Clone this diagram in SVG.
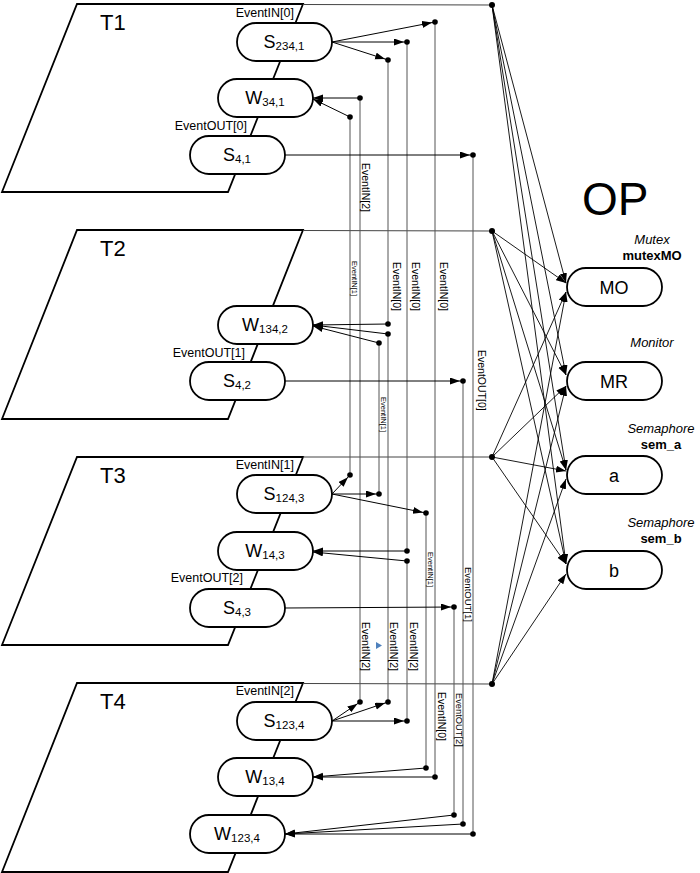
<svg xmlns="http://www.w3.org/2000/svg" width="700" height="873" viewBox="0 0 700 873">
<defs>
<style>
.thr{fill:#fff;stroke:#000;stroke-width:1.8}
.nd{fill:#fff;stroke:#000;stroke-width:1.8}
.top{stroke:#444;stroke-width:1;fill:none}
.bus{stroke:#555;stroke-width:1;fill:none}
.ar{stroke:#000;stroke-width:1;fill:none;marker-end:url(#ah)}
.ad{stroke:#000;stroke-width:1;fill:none;marker-end:url(#ahd)}
.fan{stroke:#000;stroke-width:0.9;fill:none;marker-end:url(#ah)}
.t{font-family:"Liberation Sans",Arial,sans-serif;fill:#000}
.ttl{font-size:22px}
.nl{font-size:18px;text-anchor:middle}
.sub{font-size:11.5px}
.ev{font-size:12.5px;text-anchor:end}
.vl{font-size:10.5px}
.vs{font-size:7.5px}
.lab{font-size:13px;text-anchor:middle}
</style>
<marker id="ah" markerUnits="userSpaceOnUse" markerWidth="11" markerHeight="8" refX="10" refY="3.5" orient="auto"><path d="M0,0 L10,3.5 L0,7 z" fill="#000"/></marker>
<marker id="ahd" markerUnits="userSpaceOnUse" markerWidth="14" markerHeight="8" refX="13" refY="3.5" orient="auto"><path d="M0,0 L10,3.5 L0,7 z" fill="#000"/></marker>
</defs>
<rect width="700" height="873" fill="#fff"/>

<g id="T1"><polygon class="thr" points="77,4 303,4 228,192 2,192"/><text class="t ttl" x="100" y="30">T1</text><text class="t ev" x="294" y="17">EventIN[0]</text><text class="t ev" x="247" y="130">EventOUT[0]</text></g>
<g id="T2"><polygon class="thr" points="77,230 303,230 228,419 2,419"/><text class="t ttl" x="100" y="256">T2</text><text class="t ev" x="245" y="357">EventOUT[1]</text></g>
<g id="T3"><polygon class="thr" points="77,457 303,457 228,645 2,645"/><text class="t ttl" x="100" y="483">T3</text><text class="t ev" x="294" y="469">EventIN[1]</text><text class="t ev" x="243" y="582">EventOUT[2]</text></g>
<g id="T4"><polygon class="thr" points="77,683 303,683 228,872 2,872"/><text class="t ttl" x="100" y="709">T4</text><text class="t ev" x="294" y="695">EventIN[2]</text></g>

<g id="connectors">
<path class="top" d="M303,4.5 L492,5 M303,230.5 L492,231 M303,457 L492,457 M303,683.5 L492,684"/>
<path class="bus" d="M350,117 V475 M360,98 V702 M379,343 V494 M388,60 V324 M388,334 V702 M407,42 V551 M407,561 V721 M426,513 V768 M435,22 V777 M454,607 V815 M463,381 V824 M473,155 V834"/>
<path class="ad" d="M332,42 L435,22"/>
<path class="ad" d="M332,42 L407,42"/>
<path class="ad" d="M332,42 L388,60"/>
<path class="ar" d="M360,98 L313,98"/>
<path class="ar" d="M350,117 L313,99"/>
<path class="ad" d="M285,155 L473,155"/>
<path class="ar" d="M388,324 L313,325"/>
<path class="ar" d="M388,334 L313,325"/>
<path class="ar" d="M379,343 L313,326"/>
<path class="ad" d="M285,381 L463,381"/>
<path class="ad" d="M332,494 L350,475"/>
<path class="ad" d="M332,494 L379,494"/>
<path class="ad" d="M332,494 L426,513"/>
<path class="ar" d="M407,551 L313,551"/>
<path class="ar" d="M407,561 L313,552"/>
<path class="ad" d="M285,608 L454,607"/>
<path class="ad" d="M332,721 L360,702"/>
<path class="ad" d="M332,721 L388,702"/>
<path class="ad" d="M332,721 L407,721"/>
<path class="ar" d="M426,768 L313,777"/>
<path class="ar" d="M435,777 L313,777"/>
<path class="ar" d="M454,815 L285,834"/>
<path class="ar" d="M463,824 L285,834"/>
<path class="ar" d="M473,834 L285,834"/>
<path class="fan" d="M492,5 L566,283"/>
<path class="fan" d="M492,5 L566,375"/>
<path class="fan" d="M492,5 L566,470"/>
<path class="fan" d="M492,5 L566,564"/>
<path class="fan" d="M492,231 L566,283"/>
<path class="fan" d="M492,231 L566,375"/>
<path class="fan" d="M492,231 L566,470"/>
<path class="fan" d="M492,231 L566,564"/>
<path class="fan" d="M492,457 L566,292"/>
<path class="fan" d="M492,457 L566,386"/>
<path class="fan" d="M492,457 L566,471"/>
<path class="fan" d="M492,457 L566,564"/>
<path class="fan" d="M492,684 L566,292"/>
<path class="fan" d="M492,684 L566,386"/>
<path class="fan" d="M492,684 L566,479"/>
<path class="fan" d="M492,684 L566,574"/>
<g fill="#000">
<circle cx="435" cy="22" r="2.8"/><circle cx="407" cy="42" r="2.8"/><circle cx="388" cy="60" r="2.8"/><circle cx="360" cy="98" r="2.8"/><circle cx="350" cy="117" r="2.8"/><circle cx="473" cy="155" r="2.8"/>
<circle cx="388" cy="324" r="2.8"/><circle cx="388" cy="334" r="2.8"/><circle cx="379" cy="343" r="2.8"/><circle cx="463" cy="381" r="2.8"/>
<circle cx="350" cy="475" r="2.8"/><circle cx="379" cy="494" r="2.8"/><circle cx="426" cy="513" r="2.8"/><circle cx="407" cy="551" r="2.8"/><circle cx="407" cy="561" r="2.8"/><circle cx="454" cy="607" r="2.8"/>
<circle cx="360" cy="702" r="2.8"/><circle cx="388" cy="702" r="2.8"/><circle cx="407" cy="721" r="2.8"/><circle cx="426" cy="768" r="2.8"/><circle cx="435" cy="777" r="2.8"/><circle cx="454" cy="815" r="2.8"/><circle cx="463" cy="824" r="2.8"/><circle cx="473" cy="834" r="2.8"/>
<circle cx="492" cy="5" r="3"/><circle cx="492" cy="231" r="3"/><circle cx="492" cy="457" r="3"/><circle cx="492" cy="684" r="3"/>
</g>
<polygon points="376,642 382,645.5 376,649" fill="#4f81bd"/>
<g class="t">
<text class="vl" transform="translate(362,163) rotate(90)">EventIN[2]</text>
<text class="vs" transform="translate(352,261) rotate(90)">EventIN[1]</text>
<text class="vl" transform="translate(393,262) rotate(90)">EventIN[0]</text>
<text class="vl" transform="translate(412,262) rotate(90)">EventIN[0]</text>
<text class="vl" transform="translate(440,262) rotate(90)">EventIN[0]</text>
<text class="vl" transform="translate(478,350) rotate(90)">EventOUT[0]</text>
<text class="vs" transform="translate(381,397) rotate(90)">EventIN[1]</text>
<text class="vs" transform="translate(428,552) rotate(90)">EventIN[1]</text>
<text style="font-size:9.5px" transform="translate(465,567) rotate(90)">EventOUT[1]</text>
<text class="vl" transform="translate(362,622) rotate(90)">EventIN[2]</text>
<text class="vl" transform="translate(390,622) rotate(90)">EventIN[2]</text>
<text class="vl" transform="translate(410,622) rotate(90)">EventIN[2]</text>
<text class="vl" transform="translate(438,692) rotate(90)">EventIN[0]</text>
<text style="font-size:9.3px" transform="translate(456,693) rotate(90)">EventOUT[2]</text>
</g>
</g>

<g id="S234_1"><rect class="nd" x="237" y="23" width="95" height="38" rx="19"/><text class="t nl" x="284" y="48">S<tspan class="sub" dy="2">234,1</tspan></text></g>
<g id="W34_1"><rect class="nd" x="218" y="79" width="95" height="38" rx="19"/><text class="t nl" x="265" y="104">W<tspan class="sub" dy="2">34,1</tspan></text></g>
<g id="S4_1"><rect class="nd" x="190" y="136" width="95" height="38" rx="19"/><text class="t nl" x="237" y="161">S<tspan class="sub" dy="2">4,1</tspan></text></g>
<g id="W134_2"><rect class="nd" x="218" y="306" width="95" height="38" rx="19"/><text class="t nl" x="265" y="331">W<tspan class="sub" dy="2">134,2</tspan></text></g>
<g id="S4_2"><rect class="nd" x="190" y="362" width="95" height="38" rx="19"/><text class="t nl" x="237" y="387">S<tspan class="sub" dy="2">4,2</tspan></text></g>
<g id="S124_3"><rect class="nd" x="237" y="475" width="95" height="38" rx="19"/><text class="t nl" x="284" y="500">S<tspan class="sub" dy="2">124,3</tspan></text></g>
<g id="W14_3"><rect class="nd" x="218" y="532" width="95" height="38" rx="19"/><text class="t nl" x="265" y="557">W<tspan class="sub" dy="2">14,3</tspan></text></g>
<g id="S4_3"><rect class="nd" x="190" y="589" width="95" height="38" rx="19"/><text class="t nl" x="237" y="614">S<tspan class="sub" dy="2">4,3</tspan></text></g>
<g id="S123_4"><rect class="nd" x="237" y="702" width="95" height="38" rx="19"/><text class="t nl" x="284" y="727">S<tspan class="sub" dy="2">123,4</tspan></text></g>
<g id="W13_4"><rect class="nd" x="218" y="758" width="95" height="38" rx="19"/><text class="t nl" x="265" y="783">W<tspan class="sub" dy="2">13,4</tspan></text></g>
<g id="W123_4"><rect class="nd" x="190" y="815" width="95" height="38" rx="19"/><text class="t nl" x="237" y="840">W<tspan class="sub" dy="2">123,4</tspan></text></g>

<g id="OP"><text class="t" x="582" y="215" style="font-size:46px">OP</text></g>
<g id="MO"><text class="t lab" x="652" y="244" font-style="italic">Mutex</text><text class="t lab" x="652" y="260" font-weight="bold">mutexMO</text><rect class="nd" x="567" y="268" width="95" height="38" rx="19"/><text class="t nl" x="614" y="294" style="font-size:18px">MO</text></g>
<g id="MR"><text class="t lab" x="652" y="347" font-style="italic">Monitor</text><rect class="nd" x="567" y="362" width="95" height="38" rx="19"/><text class="t nl" x="614" y="388" style="font-size:18px">MR</text></g>
<g id="a"><text class="t lab" x="661" y="433" font-style="italic">Semaphore</text><text class="t lab" x="661" y="449" font-weight="bold">sem_a</text><rect class="nd" x="567" y="456" width="95" height="38" rx="19"/><text class="t nl" x="614" y="482" style="font-size:18px">a</text></g>
<g id="b"><text class="t lab" x="661" y="527" font-style="italic">Semaphore</text><text class="t lab" x="661" y="543" font-weight="bold">sem_b</text><rect class="nd" x="567" y="551" width="95" height="38" rx="19"/><text class="t nl" x="614" y="577" style="font-size:18px">b</text></g>
</svg>
